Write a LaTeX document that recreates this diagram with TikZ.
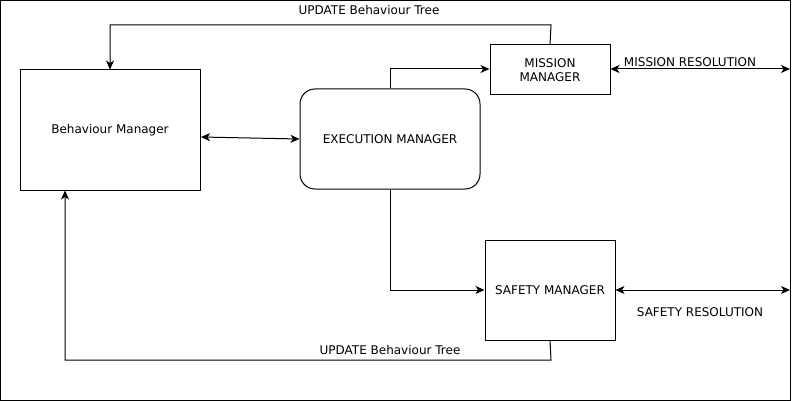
\documentclass[tikz,border=0pt]{standalone}
\usepackage{fontspec}
\setmainfont{DejaVu Sans}
\usetikzlibrary{arrows.meta}
\begin{document}
\begin{tikzpicture}[x=1pt,y=-1pt,
  box/.style={draw,line width=1pt,inner sep=0pt,align=center,font=\fontsize{12}{14}\selectfont},
  lbl/.style={inner sep=0pt,font=\fontsize{12}{14}\selectfont},
  conn/.style={line width=1pt,-{Stealth[length=9pt,width=8pt,inset=2.5pt]}},
  dconn/.style={line width=1pt,{Stealth[length=9pt,width=8pt,inset=2.5pt]}-{Stealth[length=9pt,width=8pt,inset=2.5pt]}}]
\useasboundingbox (0,0) rectangle (800,401);
\draw[line width=1pt] (0.5,0.5) rectangle (790,400);
\node[box,minimum width=180pt,minimum height=120pt] (bm) at (110,130) {Behaviour Manager};
\node[box,rounded corners=15pt,minimum width=180pt,minimum height=100pt] (em) at (390,139) {EXECUTION MANAGER};
\node[box,minimum width=120pt,minimum height=50pt] (mm) at (550,70) {MISSION\\MANAGER};
\node[box,minimum width=130pt,minimum height=100pt] (sm) at (550,290) {SAFETY MANAGER};
\coordinate (mr) at (790,69);
\coordinate (sr) at (790,290);
\draw[dconn] (201,137) -- (em.west);
\draw[conn] (em.north) |- (mm.west |- 0,69);
\draw[conn] (em.south) |- (sm.west);
\draw[dconn] (mm.east |- 0,69) -- (mr);
\draw[dconn] (sm.east) -- (sr);
\draw[conn] (mm.north) -- (551,25) -- (110,25) -- (bm.north);
\draw[conn] (sm.south) -- (551,360) -- (65,360) -- (bm.south -| 65,0);
\node[lbl] (t1) at (369,10) {UPDATE Behaviour Tree};
\node[lbl] (t2) at (390,350) {UPDATE Behaviour Tree};
\node[lbl] (t3) at (690,62) {MISSION RESOLUTION};
\node[lbl] (t4) at (700,312) {SAFETY RESOLUTION};
\end{tikzpicture}
\end{document}
